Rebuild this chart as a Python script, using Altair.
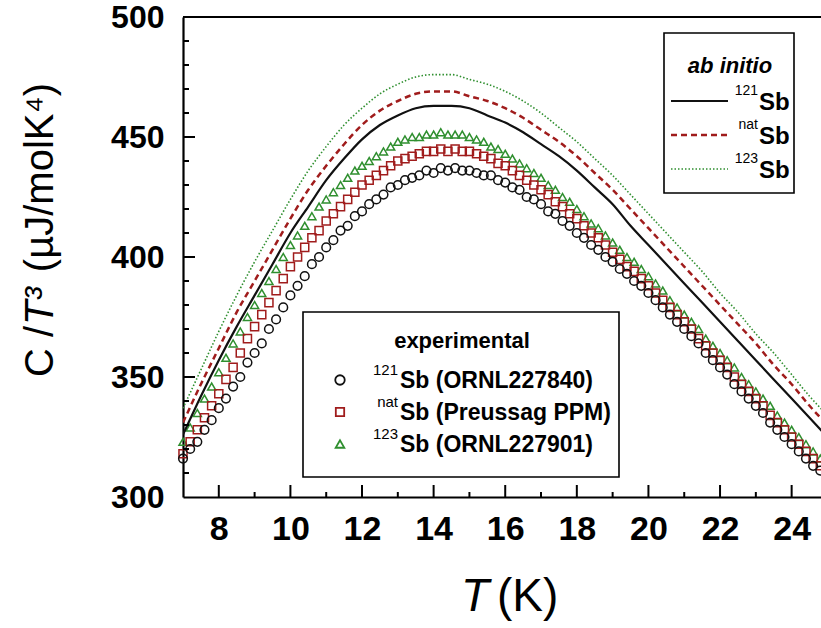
import altair as alt
import pandas as pd

FONT = "Liberation Sans"

# ---------------- data ----------------
T_THEORY = [7.0, 7.5, 8.0, 8.5, 9.0, 9.5, 10.0, 10.5, 11.0, 11.5, 12.0, 12.5, 13.0,
            13.5, 14.0, 14.5, 15.0, 15.5, 16.0, 16.5, 17.0, 17.5, 18.0, 18.5, 19.0,
            19.5, 20.0, 20.5, 21.0, 21.5, 22.0, 22.5, 23.0, 23.5, 24.0, 24.5, 25.0]
AB_121 = [326, 342, 357, 371, 384, 397, 410, 421, 432, 441, 449, 455, 459, 462, 463, 463,
          462, 459, 456, 452, 447, 442, 436, 429, 422, 413, 405, 397, 389, 381, 373, 365,
          357, 349, 341, 333, 325]
AB_NAT = [331, 347, 362, 377, 390, 403, 416, 428, 438, 447, 455, 461, 465, 468, 469, 469,
          467, 465, 462, 458, 453, 448, 442, 435, 428, 420, 412, 404, 396, 388, 380, 372,
          364, 355, 347, 338, 330]
AB_123 = [337, 353, 369, 384, 398, 411, 424, 436, 446, 455, 462, 468, 472, 475, 476, 476,
          474, 472, 469, 465, 460, 454, 448, 441, 434, 426, 418, 410, 402, 394, 385, 377,
          368, 360, 351, 342, 334]

T_EXP = [7.0, 7.2, 7.4, 7.6, 7.8, 8.0, 8.2, 8.4, 8.6, 8.8,
         9.0, 9.2, 9.4, 9.6, 9.8, 10.0, 10.2, 10.4, 10.6, 10.8,
         11.0, 11.2, 11.4, 11.6, 11.8, 12.0, 12.2, 12.4, 12.6, 12.8,
         13.0, 13.2, 13.4, 13.6, 13.8, 14.0, 14.2, 14.4, 14.6, 14.8,
         15.0, 15.2, 15.4, 15.6, 15.8, 16.0, 16.2, 16.4, 16.6, 16.8,
         17.0, 17.2, 17.4, 17.6, 17.8, 18.0, 18.2, 18.4, 18.6, 18.8,
         19.0, 19.2, 19.4, 19.6, 19.8, 20.0, 20.2, 20.4, 20.6, 20.8,
         21.0, 21.2, 21.4, 21.6, 21.8, 22.0, 22.2, 22.4, 22.6, 22.8,
         23.0, 23.2, 23.4, 23.6, 23.8, 24.0, 24.2, 24.4, 24.6, 24.8]
EXP_121 = [316, 320, 323, 328, 332, 337, 341, 346, 350, 356,
           360, 364, 370, 374, 379, 384, 388, 392, 397, 400,
           404, 407, 411, 413, 417, 419, 422, 424, 426, 429,
           430, 432, 433, 434, 436, 435, 437, 436, 437, 436,
           436, 435, 434, 434, 432, 431, 429, 428, 425, 424,
           422, 419, 418, 415, 413, 410, 408, 405, 403, 400,
           398, 395, 393, 390, 388, 385, 382, 379, 376, 373,
           370, 367, 364, 360, 357, 354, 351, 347, 344, 341,
           338, 335, 331, 328, 325, 322, 319, 316, 313, 311]
EXP_NAT = [318, 323, 328, 333, 338, 343, 349, 354, 360, 366,
           371, 376, 381, 386, 391, 396, 400, 404, 408, 411,
           415, 418, 421, 424, 427, 430, 432, 434, 436, 438,
           440, 441, 442, 443, 444, 444, 445, 444, 445, 444,
           444, 443, 442, 441, 439, 438, 436, 434, 432, 430,
           428, 426, 423, 421, 418, 416, 413, 410, 408, 405,
           402, 399, 396, 394, 391, 388, 385, 382, 379, 376,
           373, 370, 366, 363, 360, 357, 354, 350, 347, 344,
           341, 338, 334, 331, 328, 325, 322, 319, 316, 313]
EXP_123 = [323, 329, 335, 341, 346, 352, 358, 364, 369, 375,
           380, 385, 390, 395, 400, 405, 409, 413, 417, 421,
           424, 427, 430, 433, 436, 438, 440, 442, 444, 446,
           448, 449, 450, 450, 451, 451, 452, 451, 451, 451,
           450, 449, 448, 446, 445, 443, 441, 439, 437, 435,
           433, 430, 428, 425, 423, 420, 417, 414, 412, 409,
           406, 403, 400, 398, 395, 392, 389, 386, 382, 379,
           376, 373, 370, 366, 363, 360, 357, 354, 350, 347,
           344, 341, 338, 334, 331, 328, 325, 322, 319, 316]

X_LABELS = [8, 10, 12, 14, 16, 18, 20, 22, 24]
X_MINOR = [9, 11, 13, 15, 17, 19, 21, 23]
Y_LABELS = [300, 350, 400, 450, 500]
Y_MAJOR = [350, 400, 450]
Y_MINOR = [310, 320, 330, 340, 360, 370, 380, 390, 410, 420, 430, 440, 460, 470, 480, 490]

AB_TITLE = "ab initio"
AB_ISOTOPES = ["121", "nat", "123"]
AB_ELEMENT = "Sb"
EXP_TITLE = "experimental"
EXP_ISOTOPES = ["121", "nat", "123"]
EXP_LABELS = ["Sb (ORNL227840)", "Sb (Preussag PPM)", "Sb (ORNL227901)"]
Y_TITLE_PARTS = ["C /", "T\u00b3", "(\u00b5J/molK\u2074)"]
X_TITLE_PARTS = ["T", "(K)"]

# ---------------- styling ----------------
W, H = 638, 480
BLACK = "#111111"
RED = "#a01c1c"
GREEN = "#2f8f2f"

xs = alt.Scale(domain=[7.0, 24.82], nice=False, zero=False)
ys = alt.Scale(domain=[300, 500], nice=False, zero=False)

xaxis = alt.Axis(values=X_LABELS, title=None, ticks=False, tickSize=0, grid=False,
                 domain=True, domainColor="black", domainWidth=2.2,
                 labelFont=FONT, labelFontSize=34, labelFontWeight="bold",
                 labelColor="black", labelPadding=15, labelOverlap=False, labelFlush=False)
yaxis = alt.Axis(values=Y_LABELS, title=None, ticks=False, tickSize=0, grid=False,
                 domain=True, domainColor="black", domainWidth=2.2,
                 labelFont=FONT, labelFontSize=32, labelFontWeight="bold",
                 labelColor="black", labelPadding=19, labelOverlap=False)

X = alt.X("T:Q", scale=xs, axis=xaxis)
Y = alt.Y("C:Q", scale=ys, axis=yaxis)

layers = []

# experimental points
def pts(vals, shape, color, size):
    df = pd.DataFrame({"T": T_EXP, "C": vals})
    return alt.Chart(df).mark_point(shape=shape, filled=False, color=color,
                                    size=size, strokeWidth=1.5, opacity=1).encode(x=X, y=Y)

layers.append(pts(EXP_123, "triangle-up", GREEN, 65))
layers.append(pts(EXP_NAT, "square", RED, 65))
layers.append(pts(EXP_121, "circle", BLACK, 75))

# ab initio lines
def line(vals, color, width, dash=None):
    df = pd.DataFrame({"T": T_THEORY, "C": vals})
    kw = dict(color=color, strokeWidth=width, clip=True, interpolate="monotone")
    if dash:
        kw["strokeDash"] = dash
    return alt.Chart(df).mark_line(**kw).encode(x=X, y=Y)

layers.append(line(AB_123, GREEN, 1.6, [1.5, 2]))
layers.append(line(AB_NAT, RED, 2.5, [6, 4]))
layers.append(line(AB_121, BLACK, 2.2))

# inward ticks
def xticks(vals, length):
    return alt.Chart(pd.DataFrame({"T": vals})).mark_rule(color="black", strokeWidth=2).encode(
        x=X, y=alt.value(H), y2=alt.value(H - length))

def yticks(vals, length):
    return alt.Chart(pd.DataFrame({"C": vals})).mark_rule(color="black", strokeWidth=2).encode(
        y=Y, x=alt.value(0), x2=alt.value(length))

layers += [xticks(X_LABELS, 12), xticks(X_MINOR, 5), yticks(Y_MAJOR, 12), yticks(Y_MINOR, 6)]

# top frame
ONE = pd.DataFrame({"k": [0]})
layers.append(alt.Chart(ONE).mark_rule(color="black", strokeWidth=2.2).encode(
    x=alt.value(0), x2=alt.value(W), y=alt.value(0)))

def text(s, x, y, size, align="left", weight="normal", style="normal", angle=None,
         baseline="alphabetic"):
    kw = dict(text=s, align=align, baseline=baseline, font=FONT, fontSize=size,
              fontWeight=weight, fontStyle=style, color="black")
    if angle is not None:
        kw["angle"] = angle
    return alt.Chart(ONE).mark_text(**kw).encode(x=alt.value(x), y=alt.value(y))

def box(x1, x2, y1, y2):
    return alt.Chart(ONE).mark_rect(fill="white", stroke="black", strokeWidth=1.6).encode(
        x=alt.value(x1), x2=alt.value(x2), y=alt.value(y1), y2=alt.value(y2))

# ab initio legend
layers.append(box(481, 611, 16, 176))
layers.append(text(AB_TITLE, 547, 56, 22, align="center", weight="bold", style="italic"))
ab_styles = [(BLACK, 2.2, None), (RED, 2.5, [6, 4]), (GREEN, 1.6, [1.5, 2])]
for i, (iso, (col, wdt, dash)) in enumerate(zip(AB_ISOTOPES, ab_styles)):
    base = 93 + 34 * i
    kw = dict(color=col, strokeWidth=wdt)
    if dash:
        kw["strokeDash"] = dash
    layers.append(alt.Chart(ONE).mark_rule(**kw).encode(
        x=alt.value(488), x2=alt.value(545), y=alt.value(base - 9)))
    layers.append(text(iso, 575, base - 15, 14, align="right"))
    layers.append(text(AB_ELEMENT, 576, base, 24, weight="bold"))

# experimental legend
layers.append(box(120, 436, 295, 460))
layers.append(text(EXP_TITLE, 279, 331, 22, align="center", weight="bold"))
exp_styles = [("circle", BLACK, 90), ("square", RED, 70), ("triangle-up", GREEN, 75)]
for i, (iso, lab, (shp, col, sz)) in enumerate(zip(EXP_ISOTOPES, EXP_LABELS, exp_styles)):
    base = 371 + 32 * i
    layers.append(alt.Chart(ONE).mark_point(shape=shp, filled=False, color=col, size=sz,
                                            strokeWidth=1.8, opacity=1).encode(
        x=alt.value(157), y=alt.value(base - 8)))
    layers.append(text(iso, 215, base - 13, 15, align="right"))
    layers.append(text(lab, 217, base, 23, weight="bold"))

# axis titles
layers.append(text(Y_TITLE_PARTS[0], -130, 360, 40, align="left", angle=270))
layers.append(text(Y_TITLE_PARTS[1], -130, 308, 40, align="left", style="italic", angle=270))
layers.append(text(Y_TITLE_PARTS[2], -130, 66, 40, align="right", angle=270))
layers.append(text(X_TITLE_PARTS[0], 306, 594, 46, align="right", style="italic"))
layers.append(text(X_TITLE_PARTS[1], 314, 594, 46, align="left"))

chart = alt.layer(*layers).properties(
    width=W, height=H,
    padding={"left": 183, "top": 17, "right": 0, "bottom": 131},
    autosize=alt.AutoSizeParams(type="none"),
    background="white",
).configure_view(stroke=None)

chart.save("out.html", embed_options={"renderer": "svg", "actions": False})
